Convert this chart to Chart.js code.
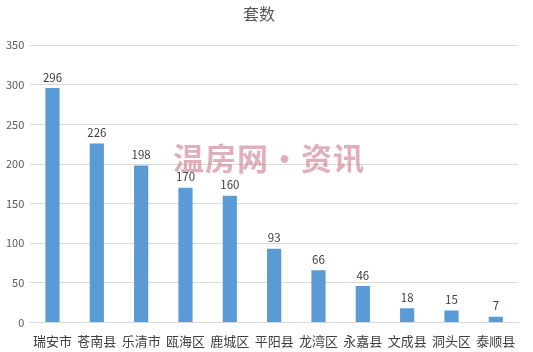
<!DOCTYPE html>
<html>
<head>
<meta charset="utf-8">
<script src="https://cdn.jsdelivr.net/npm/chart.js@4/dist/chart.umd.min.js"></script>
<style>
    html, body { margin: 0; padding: 0; background: #fff; }
    #wrap { position: relative; width: 533px; height: 352px; }
    #mark {
        position: absolute; left: 173px; top: 134px;
        font-family: "Noto Sans CJK SC", sans-serif; font-weight: bold;
        font-size: 31px; color: rgba(200, 110, 130, 0.55); letter-spacing: 1px;
        pointer-events: none;
    }
</style>
</head>
<body>
<div id="wrap">
    <canvas id="chart" width="533" height="352"></canvas>
    <div id="mark">温房网·资讯</div>
</div>
<script>
const categories = ['瑞安市', '苍南县', '乐清市', '瓯海区', '鹿城区', '平阳县', '龙湾区', '永嘉县', '文成县', '洞头区', '泰顺县'];
const counts = [296, 226, 198, 170, 160, 93, 66, 46, 18, 15, 7];
const yTicks = [0, 50, 100, 150, 200, 250, 300, 350];

const labelPlugin = {
    id: 'barLabels',
    afterDatasetsDraw(chart) {
        const ctx = chart.ctx;
        const meta = chart.getDatasetMeta(0);
        ctx.save();
        ctx.font = '11.5px "Noto Sans CJK SC", sans-serif';
        ctx.fillStyle = '#404040';
        ctx.textAlign = 'center';
        ctx.textBaseline = 'bottom';
        meta.data.forEach((bar, i) => {
            ctx.fillText(counts[i], bar.x, bar.y - 5);
        });
        ctx.restore();
    }
};

new Chart(document.getElementById('chart'), {
    type: 'bar',
    data: {
        labels: categories,
        datasets: [{
            data: counts,
            backgroundColor: '#5b9bd5',
            categoryPercentage: 1,
            barPercentage: 0.32
        }]
    },
    options: {
        responsive: false,
        animation: false,
        layout: { padding: { left: 0, right: 15, top: 0, bottom: 0 } },
        plugins: {
            legend: { display: false },
            tooltip: { enabled: false },
            title: {
                display: true,
                text: '套数',
                color: '#595959',
                font: { family: '"Noto Sans CJK SC", sans-serif', size: 16, weight: 'normal' },
                padding: { top: 4, bottom: 22 }
            }
        },
        scales: {
            x: {
                grid: { display: false },
                border: { color: '#d9d9d9' },
                ticks: {
                    color: '#404040',
                    maxRotation: 0,
                    autoSkip: false,
                    padding: 3,
                    font: { family: '"Noto Sans CJK SC", sans-serif', size: 13 }
                }
            },
            y: {
                min: 0,
                max: 350,
                afterBuildTicks(axis) { axis.ticks = yTicks.map(v => ({ value: v })); },
                grid: { color: '#d9d9d9', drawTicks: false },
                border: { display: false },
                ticks: {
                    color: '#595959',
                    padding: 6,
                    font: { family: '"Noto Sans CJK SC", sans-serif', size: 11 }
                }
            }
        }
    },
    plugins: [labelPlugin]
});
</script>
</body>
</html>
